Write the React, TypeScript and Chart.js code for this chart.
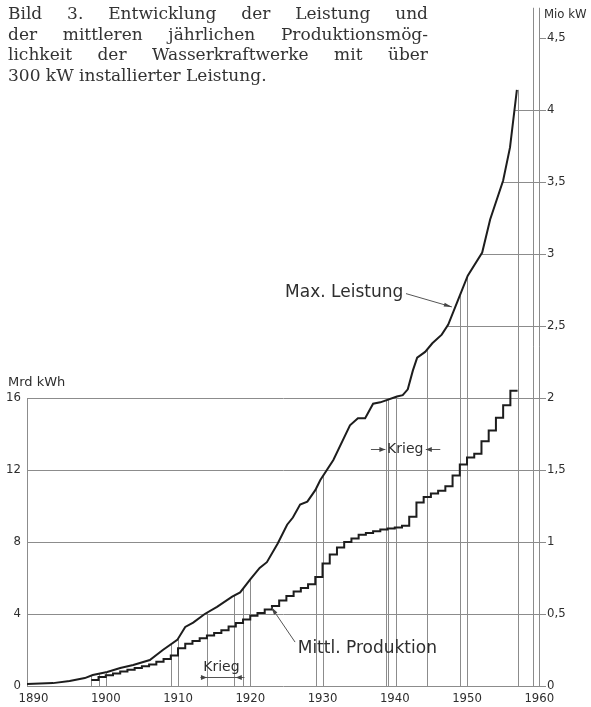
import React, { useEffect, useRef } from 'react';
import { Chart, registerables } from 'chart.js';

Chart.register(...registerables);

// ---------- data ----------
const TITLE_LINES = [
  'Bild 3. Entwicklung der Leistung und',
  'der mittleren jährlichen Produktionsmög-',
  'lichkeit der Wasserkraftwerke mit über',
  '300 kW installierter Leistung.',
];

const X_TICKS = [1890, 1900, 1910, 1920, 1930, 1940, 1950, 1960];
const LEFT_TICKS = [0, 4, 8, 12, 16]; // Mrd kWh
const RIGHT_TICKS = [0, 0.5, 1, 1.5, 2, 2.5, 3, 3.5, 4, 4.5]; // Mio kW

// Max. Leistung (Mio kW)
const POWER_YEARS = [
  1889.1, 1892.7, 1895.0, 1897.1, 1898.2, 1900.2, 1902.0, 1903.8, 1906.1, 1907.9,
  1909.9, 1911.0, 1912.1, 1913.7, 1915.4, 1917.5, 1918.6, 1920.0, 1921.3, 1922.3,
  1923.8, 1925.1, 1925.9, 1926.9, 1927.9, 1929.0, 1929.7, 1931.5, 1933.8, 1934.9,
  1935.9, 1937.0, 1938.0, 1940.3, 1941.1, 1941.8, 1942.5, 1943.1, 1944.2, 1945.2,
  1946.5, 1947.4, 1948.75, 1950.1, 1952.1, 1953.2, 1955.0, 1955.95, 1956.9,
];
const POWER_VALUES = [
  0.014, 0.02, 0.035, 0.055, 0.076, 0.097, 0.125, 0.146, 0.18, 0.25,
  0.32, 0.41, 0.44, 0.5, 0.55, 0.62, 0.65, 0.74, 0.82, 0.86,
  0.99, 1.12, 1.17, 1.26, 1.28, 1.36, 1.43, 1.57, 1.81, 1.86,
  1.86, 1.96, 1.97, 2.01, 2.02, 2.06, 2.19, 2.28, 2.32, 2.38,
  2.44, 2.51, 2.68, 2.85, 3.01, 3.24, 3.51, 3.74, 4.14,
];

// Mittl. Produktion (Mrd kWh), value held from year to next year
const PROD_YEARS = [
  1898, 1899, 1900, 1901, 1902, 1903, 1904, 1905, 1906, 1907,
  1908, 1909, 1910, 1911, 1912, 1913, 1914, 1915, 1916, 1917,
  1918, 1919, 1920, 1921, 1922, 1923, 1924, 1925, 1926, 1927,
  1928, 1929, 1930, 1931, 1932, 1933, 1934, 1935, 1936, 1937,
  1938, 1939, 1940, 1941, 1942, 1943, 1944, 1945, 1946, 1947,
  1948, 1949, 1950, 1951, 1952, 1953, 1954, 1955, 1956, 1957,
];
const PROD_VALUES = [
  0.33, 0.5, 0.6, 0.7, 0.8, 0.9, 1.0, 1.1, 1.2, 1.35,
  1.5, 1.7, 2.1, 2.35, 2.5, 2.65, 2.8, 2.95, 3.1, 3.3,
  3.5, 3.7, 3.9, 4.05, 4.25, 4.45, 4.75, 5.0, 5.25, 5.45,
  5.65, 6.05, 6.8, 7.3, 7.7, 8.0, 8.2, 8.4, 8.5, 8.6,
  8.7, 8.75, 8.8, 8.9, 9.4, 10.2, 10.5, 10.7, 10.85, 11.1,
  11.7, 12.3, 12.7, 12.9, 13.6, 14.2, 14.9, 15.6, 16.4, 16.4,
];

// vertical reference lines up to the power curve
const DROP_YEARS = [
  1898, 1899, 1900, 1909, 1910, 1914, 1917.75, 1919, 1920, 1929.1, 1930.1,
  1938.8, 1939.1, 1940.2, 1944.5, 1949, 1950, 1957.1,
];
// full-height line near the right axis
const TALL_YEARS = [1959.1];
// power levels with leader from curve to right axis
const POWER_LEVELS = [2.5, 3, 3.5, 4];

const X_MIN = 1889.1;
const X_MAX = 1960.1;
const TOP_EXTENT = 4.71; // Mio kW, top of the tall vertical lines

const INK = '#1d1d1d';
const GRID = '#8c8c8c';
const TEXT = '#2e2e2e';
const SANS = "'DejaVu Sans', sans-serif";
const TICK_FAMILY = "'DejaVu Sans Condensed', 'Liberation Sans Narrow', 'DejaVu Sans', sans-serif";

function powerAt(year: number): number {
  if (year <= POWER_YEARS[0]) return POWER_VALUES[0];
  for (let i = 1; i < POWER_YEARS.length; i++) {
    if (year <= POWER_YEARS[i]) {
      const t = (year - POWER_YEARS[i - 1]) / (POWER_YEARS[i] - POWER_YEARS[i - 1]);
      return POWER_VALUES[i - 1] + t * (POWER_VALUES[i] - POWER_VALUES[i - 1]);
    }
  }
  return POWER_VALUES[POWER_VALUES.length - 1];
}

function yearAtPower(level: number): number {
  for (let i = 1; i < POWER_VALUES.length; i++) {
    if (POWER_VALUES[i] >= level) {
      const t = (level - POWER_VALUES[i - 1]) / (POWER_VALUES[i] - POWER_VALUES[i - 1]);
      return POWER_YEARS[i - 1] + t * (POWER_YEARS[i] - POWER_YEARS[i - 1]);
    }
  }
  return POWER_YEARS[POWER_YEARS.length - 1];
}

function arrowHead(ctx: CanvasRenderingContext2D, fx: number, fy: number, tx: number, ty: number, len = 7, half = 2.5) {
  const a = Math.atan2(ty - fy, tx - fx);
  const bx = tx - len * Math.cos(a);
  const by = ty - len * Math.sin(a);
  const px = -Math.sin(a) * half;
  const py = Math.cos(a) * half;
  ctx.beginPath();
  ctx.moveTo(tx, ty);
  ctx.lineTo(bx + px, by + py);
  ctx.lineTo(bx - px, by - py);
  ctx.closePath();
  ctx.fill();
}

const overlayPlugin = {
  id: 'overlay',
  beforeDatasetsDraw(chart: any) {
    const { ctx, chartArea, scales } = chart;
    const x = scales.x;
    const y = scales.y;
    const y2 = scales.y2;
    ctx.save();
    ctx.strokeStyle = GRID;
    ctx.lineWidth = 1;
    const bottom = y.getPixelForValue(0);
    const top = y2.getPixelForValue(TOP_EXTENT);
    // left axis line up to 16
    ctx.beginPath();
    ctx.moveTo(chartArea.left + 0.5, bottom);
    ctx.lineTo(chartArea.left + 0.5, y.getPixelForValue(LEFT_TICKS[LEFT_TICKS.length - 1]));
    ctx.stroke();
    // right axis line
    ctx.beginPath();
    ctx.moveTo(chartArea.right - 0.5, bottom);
    ctx.lineTo(chartArea.right - 0.5, top);
    ctx.stroke();
    // tall lines
    for (const yr of TALL_YEARS) {
      const px = Math.round(x.getPixelForValue(yr)) + 0.5;
      ctx.beginPath();
      ctx.moveTo(px, bottom);
      ctx.lineTo(px, top);
      ctx.stroke();
    }
    // drop lines to power curve
    for (const yr of DROP_YEARS) {
      const px = Math.round(x.getPixelForValue(yr)) + 0.5;
      ctx.beginPath();
      ctx.moveTo(px, bottom);
      ctx.lineTo(px, y2.getPixelForValue(powerAt(yr)));
      ctx.stroke();
    }
    // leaders from curve to right axis
    for (const lv of POWER_LEVELS) {
      const py = Math.round(y2.getPixelForValue(lv)) + 0.5;
      ctx.beginPath();
      ctx.moveTo(x.getPixelForValue(yearAtPower(lv)), py);
      ctx.lineTo(chartArea.right, py);
      ctx.stroke();
    }
    ctx.restore();
  },
  afterDatasetsDraw(chart: any) {
    const { ctx, chartArea, scales } = chart;
    const x = scales.x;
    const y = scales.y;
    ctx.save();
    ctx.fillStyle = TEXT;
    ctx.strokeStyle = '#555';
    ctx.lineWidth = 1;

    // axis titles
    ctx.textAlign = 'left';
    ctx.textBaseline = 'middle';
    ctx.font = `13px ${SANS}`;
    ctx.fillText('Mrd kWh', 8, y.getPixelForValue(16) - 15);
    ctx.font = `13px ${TICK_FAMILY}`;
    ctx.fillText('Mio kW', chartArea.right + 4, 15);

    // curve labels
    ctx.font = `17px ${SANS}`;
    ctx.textAlign = 'center';
    ctx.fillText('Max. Leistung', x.getPixelForValue(1933.0), y.getPixelForValue(21.85));
    ctx.fillText('Mittl. Produktion', x.getPixelForValue(1936.2), y.getPixelForValue(2.1));

    const arrow = (x1: number, v1: number, x2: number, v2: number) => {
      const ax = x.getPixelForValue(x1), ay = y.getPixelForValue(v1);
      const bx = x.getPixelForValue(x2), by = y.getPixelForValue(v2);
      ctx.beginPath();
      ctx.moveTo(ax, ay);
      ctx.lineTo(bx, by);
      ctx.stroke();
      ctx.fillStyle = '#444';
      arrowHead(ctx, ax, ay, bx, by, 8, 2);
      ctx.fillStyle = TEXT;
    };
    arrow(1941.55, 21.8, 1947.9, 21.06);
    arrow(1926.2, 2.44, 1922.9, 4.39);

    // Krieg (WWI)
    ctx.font = `14px ${SANS}`;
    ctx.fillText('Krieg', x.getPixelForValue(1916.0), y.getPixelForValue(1.05));
    const ly = Math.round(y.getPixelForValue(0.5)) + 0.5;
    ctx.beginPath();
    ctx.moveTo(x.getPixelForValue(1913.1), ly);
    ctx.lineTo(x.getPixelForValue(1919.2), ly);
    ctx.stroke();
    ctx.fillStyle = '#444';
    arrowHead(ctx, x.getPixelForValue(1913.1), ly, x.getPixelForValue(1914), ly, 6, 2.5);
    arrowHead(ctx, x.getPixelForValue(1919.2), ly, x.getPixelForValue(1918), ly, 6, 2.5);
    ctx.fillStyle = TEXT;

    // Krieg (WWII)
    const ky = Math.round(y.getPixelForValue(13.17)) + 0.5;
    ctx.fillText('Krieg', x.getPixelForValue(1941.45), ky);
    ctx.beginPath();
    ctx.moveTo(x.getPixelForValue(1936.7), ky);
    ctx.lineTo(x.getPixelForValue(1938.7), ky);
    ctx.moveTo(x.getPixelForValue(1946.3), ky);
    ctx.lineTo(x.getPixelForValue(1944.3), ky);
    ctx.stroke();
    ctx.fillStyle = '#444';
    arrowHead(ctx, x.getPixelForValue(1936.7), ky, x.getPixelForValue(1938.7), ky, 6, 2.5);
    arrowHead(ctx, x.getPixelForValue(1946.3), ky, x.getPixelForValue(1944.3), ky, 6, 2.5);
    ctx.restore();
  },
};

export default function App() {
  const canvasRef = useRef<HTMLCanvasElement | null>(null);

  useEffect(() => {
    const canvas = canvasRef.current;
    if (!canvas) return;
    const tickFont = { family: TICK_FAMILY, size: 13 };
    const chart = new Chart(canvas, {
      type: 'line',
      data: {
        datasets: [
          {
            label: 'Max. Leistung',
            data: POWER_YEARS.map((v, i) => ({ x: v, y: POWER_VALUES[i] })),
            yAxisID: 'y2',
            borderColor: INK,
            borderWidth: 2,
            pointRadius: 0,
            tension: 0,
            fill: false,
          },
          {
            label: 'Mittl. Produktion',
            data: PROD_YEARS.map((v, i) => ({ x: v, y: PROD_VALUES[i] })),
            yAxisID: 'y',
            borderColor: INK,
            borderWidth: 2,
            pointRadius: 0,
            stepped: 'before',
            fill: false,
          },
        ],
      },
      options: {
        animation: false,
        responsive: false,
        devicePixelRatio: 1,
        layout: { padding: { top: 38, left: 0, right: 0, bottom: 0 } },
        plugins: { legend: { display: false }, tooltip: { enabled: false } },
        scales: {
          x: {
            type: 'linear',
            min: X_MIN,
            max: X_MAX,
            afterBuildTicks: (s: any) => {
              s.ticks = X_TICKS.map((v) => ({ value: v }));
            },
            afterFit: (s: any) => {
              s.height = 21;
            },
            grid: { display: false, drawTicks: false },
            border: { display: false },
            ticks: {
              font: tickFont,
              color: TEXT,
              padding: 5,
              maxRotation: 0,
              autoSkip: false,
              callback: (v: any) => String(v),
            },
          },
          y: {
            type: 'linear',
            position: 'left',
            min: 0,
            max: 36,
            afterBuildTicks: (s: any) => {
              s.ticks = LEFT_TICKS.map((v) => ({ value: v }));
            },
            afterFit: (s: any) => {
              s.width = 27;
            },
            grid: { color: GRID, lineWidth: 1, drawTicks: false },
            border: { display: false },
            ticks: { font: tickFont, color: TEXT, padding: 6, callback: (v: any) => String(v) },
          },
          y2: {
            type: 'linear',
            position: 'right',
            min: 0,
            max: 4.5,
            afterBuildTicks: (s: any) => {
              s.ticks = RIGHT_TICKS.map((v) => ({ value: v }));
            },
            afterFit: (s: any) => {
              s.width = 51;
            },
            grid: { drawOnChartArea: false, drawTicks: true, tickLength: 6, color: GRID },
            border: { display: false },
            ticks: {
              font: tickFont,
              color: TEXT,
              padding: 1,
              callback: (v: any) => String(v).replace('.', ','),
            },
          },
        },
      },
      plugins: [overlayPlugin],
    });
    return () => chart.destroy();
  }, []);

  return (
    <div style={{ position: 'absolute', left: 0, top: 0, width: 591, height: 707, background: '#fff' }}>
      <canvas ref={canvasRef} width={591} height={707} style={{ position: 'absolute', left: 0, top: 0, width: 591, height: 707 }} />
      <div
        style={{
          position: 'absolute',
          left: 8,
          top: 3,
          width: 420,
          fontFamily: "'DejaVu Serif', serif",
          fontSize: 17,
          lineHeight: '20.5px',
          color: '#333',
        }}
      >
        {TITLE_LINES.map((line, i) => (
          <div
            key={i}
            style={{
              whiteSpace: 'nowrap',
              textAlign: i < TITLE_LINES.length - 1 ? 'justify' : 'left',
              textAlignLast: i < TITLE_LINES.length - 1 ? 'justify' : 'left',
            }}
          >
            {line}
          </div>
        ))}
      </div>
    </div>
  );
}
